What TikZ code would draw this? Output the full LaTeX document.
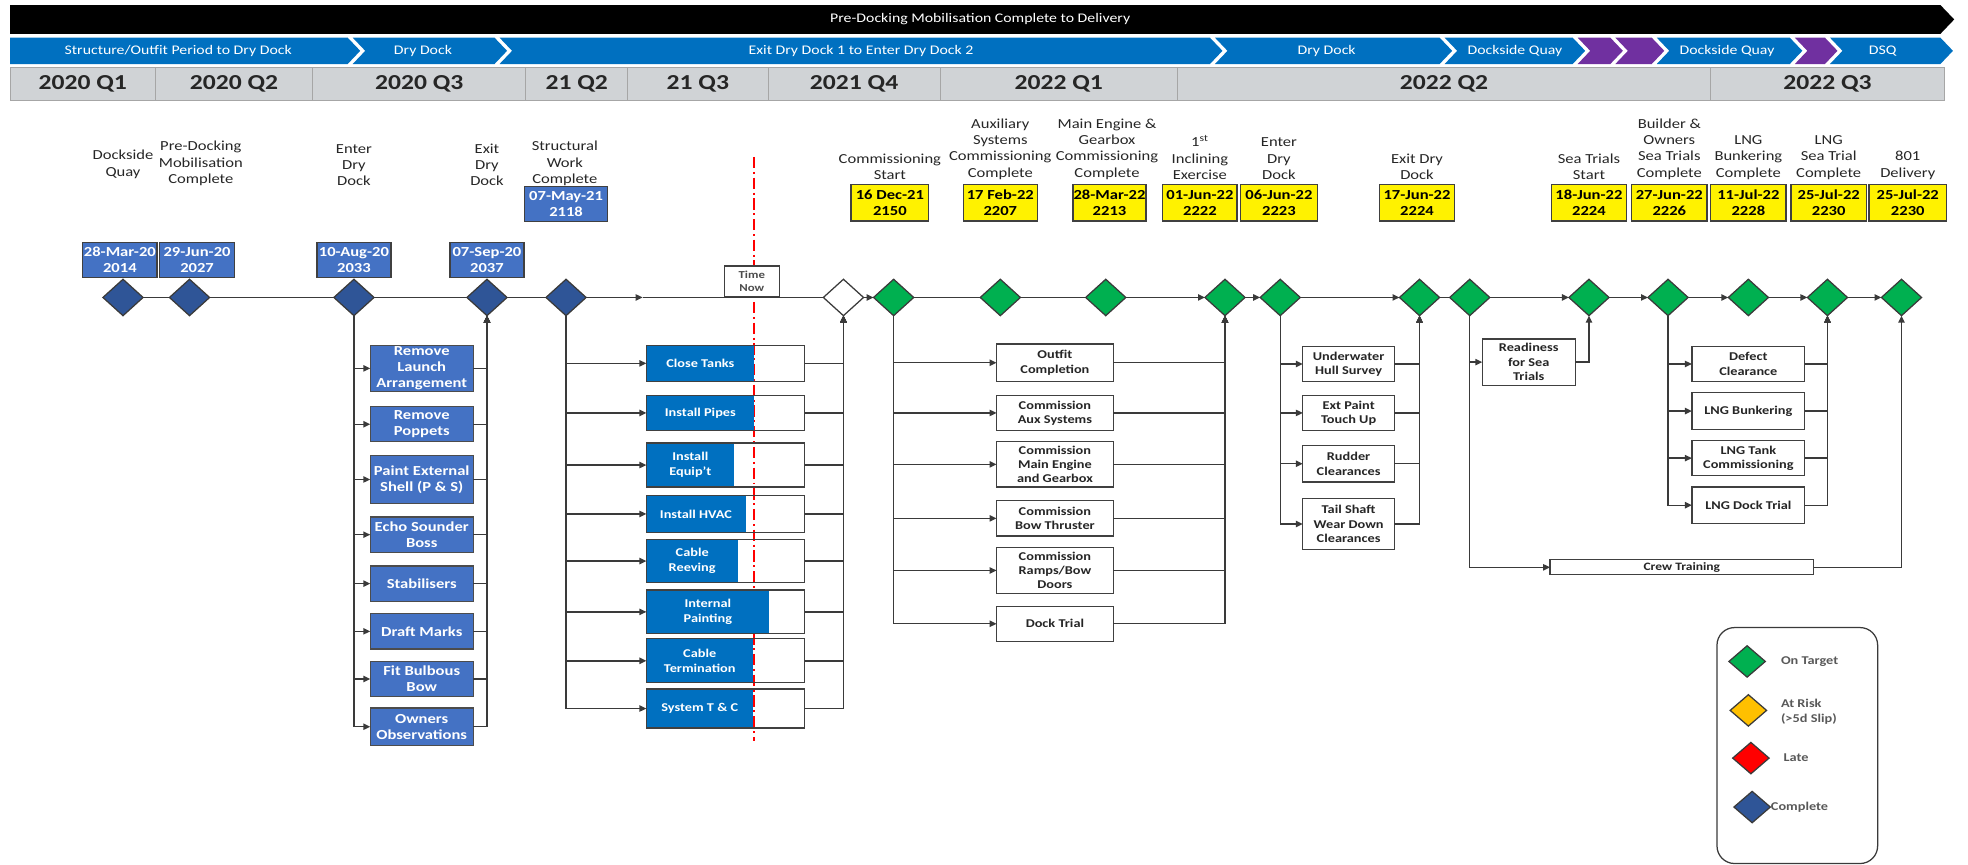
\documentclass[tikz,border=0pt]{standalone}
\usepackage{fontspec}
\setmainfont{Carlito}[FakeStretch=1.2]
\usetikzlibrary{shapes.geometric,arrows.meta,calc}
\definecolor{barblue}{HTML}{0070C0}
\definecolor{chevpurple}{HTML}{7030A0}
\definecolor{qgray}{HTML}{D0D3D6}
\definecolor{dateblue}{HTML}{4472C4}
\definecolor{navy}{HTML}{2F5597}
\definecolor{ongreen}{HTML}{00B050}
\definecolor{riskamber}{HTML}{FFC000}
\definecolor{lineg}{HTML}{3A3A3A}
\definecolor{txt}{HTML}{262626}
\newcommand\chevseg[3]{\fill[#3] (#1,30) -- (#2,30) -- ({#2+10},40.5) -- (#2,51) -- (#1,51) -- ({#1+10},40.5) -- cycle;}
\begin{document}
\begin{tikzpicture}[x=1pt,y=-1pt,
  every node/.style={inner sep=0pt, outer sep=0pt},
  conn/.style={draw=lineg, line width=1.1pt},
  arr/.style={conn, -{Triangle[length=5.5pt,width=5pt]}},
  ms/.style={diamond, draw=lineg, line width=1pt, minimum width=32pt, minimum height=29pt, inner sep=0pt},
  msdone/.style={ms, fill=navy},
  msok/.style={ms, fill=ongreen},
  msopen/.style={ms, fill=white},
  chevtext/.style={text=white, font=\fontsize{10.5}{12}\selectfont},
  qcell/.style={draw=gray!70, line width=0.8pt, fill=qgray, text=txt, minimum height=26pt, font=\bfseries\fontsize{17}{17}\selectfont},
  lbl/.style={align=center, anchor=south, text=txt, font=\fontsize{11}{13}\selectfont},
  datebox/.style={draw=black!75, line width=1pt, fill=dateblue, text=white, align=center, minimum width=60pt, minimum height=28pt, font=\bfseries\fontsize{11}{12.5}\selectfont},
  ybox/.style={draw=black!75, line width=1pt, fill=yellow, text=black, align=center, minimum width=60pt, minimum height=29pt, font=\bfseries\fontsize{11}{12.5}\selectfont},
  taskb/.style={draw=black!70, line width=1pt, fill=dateblue, text=white, align=center, minimum width=82pt, font=\bfseries\fontsize{11}{12.5}\selectfont},
  pbox/.style={draw=black!75, line width=1pt, minimum width=126pt, path picture={\fill[barblue] (path picture bounding box.north west) rectangle ([xshift=#1pt]path picture bounding box.south west);}},
  ptext/.style={text=white, align=center, font=\bfseries\fontsize{9.5}{11.7}\selectfont},
  wbox/.style={draw=black!75, line width=1pt, fill=white, text=txt, align=center, font=\bfseries\fontsize{9.5}{11.4}\selectfont},
  legd/.style={diamond, draw=lineg, line width=1pt, minimum width=29pt, minimum height=25pt},
  legt/.style={anchor=west, align=left, text=black!65, font=\bfseries\fontsize{9.5}{11.5}\selectfont}
]
\useasboundingbox (0,0) rectangle (1568,689);

% ---- top black bar
\fill[black] (8,4) -- (1546,4) -- (1557,15.5) -- (1546,27) -- (8,27) -- cycle;
\node[chevtext] (bartext) at (781,15.5) {Pre-Docking Mobilisation Complete to Delivery};

% ---- chevron row
\fill[barblue] (8,30) -- (277,30) -- (287,40.5) -- (277,51) -- (8,51) -- cycle;
\chevseg{281}{394}{barblue}
\chevseg{398}{964}{barblue}
\chevseg{968}{1147}{barblue}
\chevseg{1151}{1253}{barblue}
\chevseg{1257}{1283}{chevpurple}
\chevseg{1287}{1316}{chevpurple}
\chevseg{1320}{1426}{barblue}
\chevseg{1430}{1454}{chevpurple}
\chevseg{1458}{1546}{barblue}
\node[chevtext] (ch1) at (142,40.5) {Structure/Outfit Period to Dry Dock};
\node[chevtext] (ch2) at (337,40.5) {Dry Dock};
\node[chevtext] (ch3) at (686,40.5) {Exit Dry Dock 1 to Enter Dry Dock  2};
\node[chevtext] (ch4) at (1057,40.5) {Dry Dock};
\node[chevtext] (ch5) at (1207,40.5) {Dockside Quay};
\node[chevtext] (ch6) at (1376,40.5) {Dockside Quay};
\node[chevtext] (ch7) at (1500,40.5) {DSQ};

% ---- quarter row
\node[qcell, minimum width=116pt] (q1) at (66,67) {2020 Q1};
\node[qcell, minimum width=125pt] (q2) at (186.5,67) {2020 Q2};
\node[qcell, minimum width=170pt] (q3) at (334,67) {2020 Q3};
\node[qcell, minimum width=81pt] (q4) at (459.5,67) {21 Q2};
\node[qcell, minimum width=112pt] (q5) at (556,67) {21 Q3};
\node[qcell, minimum width=137pt] (q6) at (680.5,67) {2021 Q4};
\node[qcell, minimum width=189pt] (q7) at (843.5,67) {2022 Q1};
\node[qcell, minimum width=425pt] (q8) at (1150.5,67) {2022 Q2};
\node[qcell, minimum width=186pt] (q9) at (1456,67) {2022 Q3};

% ---- time now line
\draw[red, line width=1.5pt, dash pattern=on 9pt off 3pt on 1.5pt off 3pt] (601,125) -- (601,590);

% ---- milestone labels
\node[lbl, anchor=center] (L1) at (98,131) {Dockside\\Quay};
\node[lbl] (L2) at (160,148) {Pre-Docking\\Mobilisation\\Complete};
\node[lbl] (L3) at (282,148) {Enter\\Dry\\Dock};
\node[lbl] (L4) at (388,148) {Exit\\Dry\\Dock};
\node[lbl] (L5) at (450,148) {Structural\\Work\\Complete};
\node[lbl] (L7) at (709,143) {Commissioning\\Start};
\node[lbl] (L8) at (797,143) {Auxiliary\\Systems\\Commissioning\\Complete};
\node[lbl] (L9) at (882,143) {Main Engine \&\\Gearbox\\Commissioning\\Complete};
\node[lbl] (L10) at (956,143) {1\textsuperscript{st}\\Inclining\\Exercise};
\node[lbl] (L11) at (1019,143) {Enter\\Dry\\Dock};
\node[lbl] (L12) at (1129,143) {Exit Dry\\Dock};
\node[lbl] (L14) at (1266,143) {Sea Trials\\Start};
\node[lbl] (L15) at (1330,143) {Builder \&\\Owners\\Sea Trials\\Complete};
\node[lbl] (L16) at (1393,143) {LNG\\Bunkering\\Complete};
\node[lbl] (L17) at (1457,143) {LNG\\Sea Trial\\Complete};
\node[lbl] (L18) at (1520,143) {801\\Delivery};

% ---- date boxes
\node[datebox, minimum width=59pt] (b1) at (95.5,207) {28-Mar-20\\2014};
\node[datebox] (b2) at (157,207) {29-Jun-20\\2027};
\node[datebox, minimum width=59pt] (b3) at (282,207) {10-Aug-20\\2033};
\node[datebox, minimum width=59pt] (b4) at (388,207) {07-Sep-20\\2037};
\node[datebox, minimum width=66pt] (b5) at (451,162.5) {07-May-21\\2118};
\node[ybox, minimum width=62pt] (y7) at (709,161.5) {16 Dec-21\\2150};
\node[ybox, minimum width=59pt] (y8) at (797,161.5) {17 Feb-22\\2207};
\node[ybox, minimum width=58pt] (y9) at (884,161.5) {28-Mar-22\\2213};
\node[ybox, minimum width=59pt] (y10) at (956,161.5) {01-Jun-22\\2222};
\node[ybox, minimum width=61pt] (y11) at (1019,161.5) {06-Jun-22\\2223};
\node[ybox] (y12) at (1129,161.5) {17-Jun-22\\2224};
\node[ybox] (y14) at (1266,161.5) {18-Jun-22\\2224};
\node[ybox] (y15) at (1330,161.5) {27-Jun-22\\2226};
\node[ybox] (y16) at (1393,161.5) {11-Jul-22\\2228};
\node[ybox] (y17) at (1457,161.5) {25-Jul-22\\2230};
\node[ybox, minimum width=62pt] (y18) at (1520,161.5) {25-Jul-22\\2230};

% ---- time now box
\node[draw=black!75, line width=1pt, fill=white, minimum width=44pt, minimum height=24pt, align=center, text=black!70, font=\bfseries\fontsize{8.5}{10}\selectfont] (tnow) at (599,224) {Time\\Now};

% ---- milestones
\node[msdone] (d1) at (98,237) {};
\node[msdone] (d2) at (151,237) {};
\node[msdone] (d3) at (282,237) {};
\node[msdone] (d4) at (388,237) {};
\node[msdone] (d5) at (451,237) {};
\coordinate (m1) at (512,237);
\node[msopen] (d6) at (672,237) {};
\node[msok] (d7) at (712,237) {};
\node[msok] (d8) at (797,237) {};
\node[msok] (d9) at (881,237) {};
\node[msok] (d10) at (976,237) {};
\node[msok] (d11) at (1020,237) {};
\node[msok] (d12) at (1131,237) {};
\node[msok] (d13) at (1171,237) {};
\node[msok] (d14) at (1266,237) {};
\node[msok] (d15) at (1329,237) {};
\node[msok] (d16) at (1393,237) {};
\node[msok] (d17) at (1456,237) {};
\node[msok] (d18) at (1515,237) {};

\draw[conn] (d1) -- (d2);
\draw[conn] (d2) -- (d3);
\draw[conn] (d3) -- (d4);
\draw[conn] (d4) -- (d5);
\draw[arr] (d5.east) -- (m1);
\draw[conn] (m1) -- (d6.west);
\draw[arr] (d6.east) -- (d7.west);
\draw[conn] (d7) -- (d8);
\draw[conn] (d8) -- (d9);
\draw[arr] (d9.east) -- (d10.west);
\draw[arr] (d10.east) -- (d11.west);
\draw[arr] (d11.east) -- (d12.west);
\draw[conn] (d12.east) -- (d13.west);
\draw[arr] (d13.east) -- (d14.west);
\draw[arr] (d14.east) -- (d15.west);
\draw[arr] (d15.east) -- (d16.west);
\draw[arr] (d16.east) -- (d17.west);
\draw[arr] (d17.east) -- (d18.west);

% ---- dry dock tasks (left)
\node[taskb, minimum height=37pt] (t1) at (336,293.5) {Remove\\Launch\\Arrangement};
\node[taskb, minimum height=28pt] (t2) at (336,338) {Remove\\Poppets};
\node[taskb, minimum height=38pt] (t3) at (336,382) {Paint External\\Shell (P \& S)};
\node[taskb, minimum height=28pt] (t4) at (336,426) {Echo Sounder\\Boss};
\node[taskb, minimum height=28pt] (t5) at (336,465) {Stabilisers};
\node[taskb, minimum height=28pt] (t6) at (336,503) {Draft Marks};
\node[taskb, minimum height=28pt] (t7) at (336,541) {Fit Bulbous\\Bow};
\node[taskb, minimum height=30pt] (t8) at (336,579) {Owners\\Observations};
\foreach \t in {t1,t2,t3,t4,t5,t6,t7,t8}{
  \draw[arr] (d3.south) |- (\t.west);
  \draw[arr] (\t.east) -| (d4.south);
}

% ---- outfit progress tasks
\node[pbox=86, minimum height=29pt] (p1) at (578,289.5) {};
\node[pbox=86, minimum height=28pt] (p2) at (578,329) {};
\node[pbox=70, minimum height=35pt] (p3) at (578,370.5) {};
\node[pbox=79, minimum height=29pt] (p4) at (578,409.5) {};
\node[pbox=73, minimum height=34pt] (p5) at (578,447) {};
\node[pbox=98, minimum height=35pt] (p6) at (578,487.5) {};
\node[pbox=85, minimum height=35pt] (p7) at (578,526.5) {};
\node[pbox=85, minimum height=31pt] (p8) at (578,564.5) {};
\node[ptext] (p1t) at ([xshift=43pt]p1.west) {Close Tanks};
\node[ptext] (p2t) at ([xshift=43pt]p2.west) {Install Pipes};
\node[ptext] (p3t) at ([xshift=35pt]p3.west) {Install\\Equip't};
\node[ptext] (p4t) at ([xshift=39.5pt]p4.west) {Install HVAC};
\node[ptext] (p5t) at ([xshift=36.5pt]p5.west) {Cable\\Reeving};
\node[ptext] (p6t) at ([xshift=49pt]p6.west) {Internal\\Painting};
\node[ptext] (p7t) at ([xshift=42.5pt]p7.west) {Cable\\Termination};
\node[ptext] (p8t) at ([xshift=42.5pt]p8.west) {System T \& C};
\foreach \t in {p1,p2,p3,p4,p5,p6,p7,p8}{
  \draw[arr] (d5.south) |- (\t.west);
  \draw[arr] (\t.east) -| (d6.south);
}

% ---- commissioning tasks
\node[wbox, minimum width=93pt, minimum height=30pt] (c1) at (840.5,289) {Outfit\\Completion};
\node[wbox, minimum width=93pt, minimum height=28pt] (c2) at (840.5,329) {Commission\\Aux Systems};
\node[wbox, minimum width=93pt, minimum height=36pt] (c3) at (840.5,370) {Commission\\Main Engine\\and Gearbox};
\node[wbox, minimum width=93pt, minimum height=28pt] (c4) at (840.5,413) {Commission\\Bow Thruster};
\node[wbox, minimum width=93pt, minimum height=37pt] (c5) at (840.5,454.5) {Commission\\Ramps/Bow\\Doors};
\node[wbox, minimum width=93pt, minimum height=28pt] (c6) at (840.5,497) {Dock Trial};
\foreach \t in {c1,c2,c3,c4,c5,c6}{
  \draw[arr] (d7.south) |- (\t.west);
  \draw[arr] (\t.east) -| (d10.south);
}

% ---- second dry dock tasks
\node[wbox, minimum width=73pt, minimum height=28pt] (r1) at (1074.5,290) {Underwater\\Hull Survey};
\node[wbox, minimum width=73pt, minimum height=28pt] (r2) at (1074.5,329) {Ext Paint\\Touch Up};
\node[wbox, minimum width=73pt, minimum height=29pt] (r3) at (1074.5,369.5) {Rudder\\Clearances};
\node[wbox, minimum width=73pt, minimum height=41pt] (r4) at (1074.5,417.5) {Tail Shaft\\Wear Down\\Clearances};
\foreach \t in {r1,r2,r3,r4}{
  \draw[arr] (d11.south) |- (\t.west);
  \draw[arr] (\t.east) -| (d12.south);
}

% ---- sea trial tasks
\node[wbox, minimum width=74pt, minimum height=37pt] (s1) at (1218,288.5) {Readiness\\for Sea\\Trials};
\node[wbox, minimum width=210pt, minimum height=12pt, font=\bfseries\fontsize{9}{10}\selectfont] (s2) at (1340,452) {Crew Training};
\draw[arr] (d13.south) |- (s1.west);
\draw[arr] (s1.east) -| (d14.south);
\draw[arr] (d13.south) |- (s2.west);
\draw[arr] (s2.east) -| (d18.south);

% ---- LNG tasks
\node[wbox, minimum width=90pt, minimum height=28pt] (l1) at (1393,290) {Defect\\Clearance};
\node[wbox, minimum width=90pt, minimum height=29pt] (l2) at (1393,327.5) {LNG Bunkering};
\node[wbox, minimum width=90pt, minimum height=28pt] (l3) at (1393,365) {LNG Tank\\Commissioning};
\node[wbox, minimum width=90pt, minimum height=29pt] (l4) at (1393,402.5) {LNG Dock Trial};
\foreach \t in {l1,l2,l3,l4}{
  \draw[arr] (d15.south) |- (\t.west);
  \draw[arr] (\t.east) -| (d17.south);
}

% ---- legend
\node[draw=lineg, line width=1pt, rounded corners=14pt, minimum width=128pt, minimum height=188pt] (leg) at (1432,594) {};
\node[legd, fill=ongreen] (k1) at (1392,527) {};
\node[legd, fill=riskamber] (k2) at (1393,566) {};
\node[legd, fill=red] (k3) at (1395,604) {};
\node[legd, fill=navy] (k4) at (1396,643) {};
\node[legt] (k1t) at (1419,527) {On Target};
\node[legt] (k2t) at (1419,567) {At Risk\\(>5d Slip)};
\node[legt] (k3t) at (1421,604) {Late};
\node[legt] (k4t) at (1411,643) {Complete};
\end{tikzpicture}
\end{document}
